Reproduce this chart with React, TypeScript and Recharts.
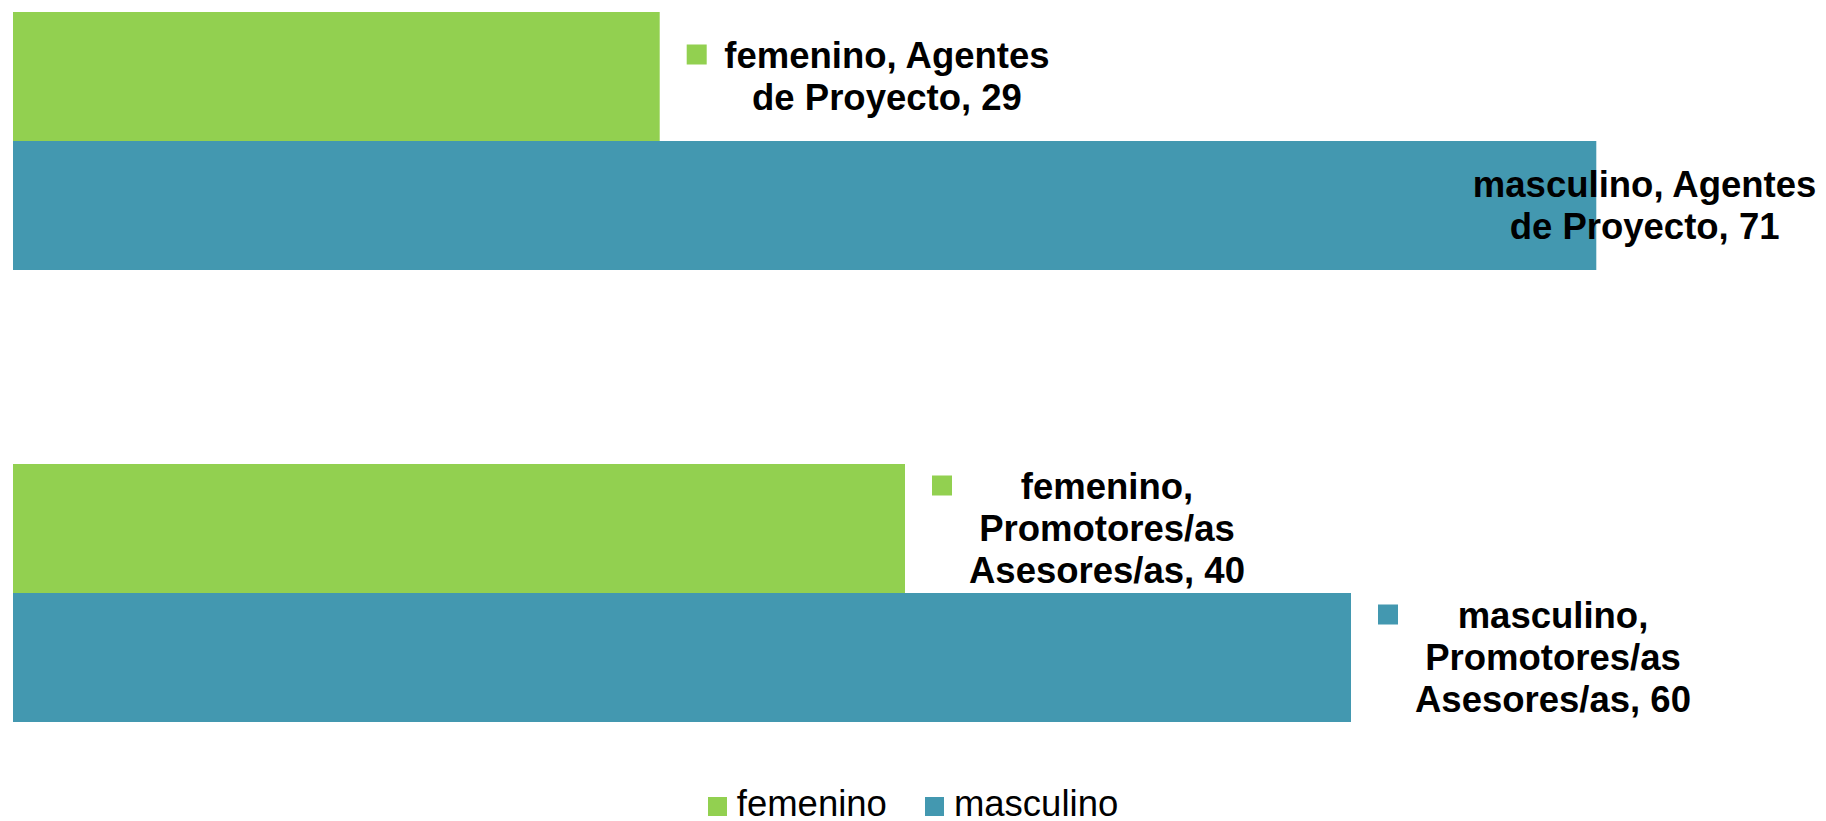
import { BarChart, Bar, XAxis, YAxis, Legend, LabelList } from 'recharts';

// datos del gráfico
const categories = ['Agentes de Proyecto', 'Promotores/as Asesores/as'];
const femenino = [29, 40];
const masculino = [71, 60];
const seriesNames = ['femenino', 'masculino'];
const xDomain = [0, 80];

const COLORS: Record<string, string> = { femenino: '#92D050', masculino: '#4398B0' };
const FONT = '"Liberation Sans", Arial, sans-serif';
const LABEL_SIZE = 36.5;
const LINE_H = 42;
const WRAP_W = 360;
const RIGHT_LIMIT = 1817;

const data = categories.map((cat, i) => ({ cat, femenino: femenino[i], masculino: masculino[i] }));

const ctx = typeof document !== 'undefined' ? document.createElement('canvas').getContext('2d') : null;
function textWidth(t: string) {
  if (!ctx) return t.length * LABEL_SIZE * 0.55;
  ctx.font = `bold ${LABEL_SIZE}px ${FONT}`;
  return ctx.measureText(t).width;
}

function wrap(text: string) {
  const words = text.split(' ');
  const lines: string[] = [];
  let cur = '';
  for (const w of words) {
    const test = cur ? cur + ' ' + w : w;
    if (cur && textWidth(test) > WRAP_W) {
      lines.push(cur);
      cur = w;
    } else {
      cur = test;
    }
  }
  if (cur) lines.push(cur);
  return lines;
}

// etiqueta estilo Excel: clave + serie, categoría, valor
const makeLabel = (series: string) => (props: any) => {
  const vb = props.viewBox ?? props;
  const x = Number(vb.x ?? props.x);
  const y = Number(vb.y ?? props.y);
  const w = Number(vb.width ?? props.width);
  const h = Number(vb.height ?? props.height);
  const value = props.value;
  let idx = props.index;
  if (idx == null) idx = (series === 'femenino' ? femenino : masculino).indexOf(Number(value));
  const cat = categories[idx] ?? '';
  const lines = wrap(`${series}, ${cat}, ${value}`);
  const blockW = Math.max(...lines.map(textWidth));
  const barEnd = x + w;
  const cy = y + h / 2;
  let cx = barEnd + 64 + blockW / 2;
  let showKey = true;
  if (cx + blockW / 2 > RIGHT_LIMIT) {
    cx = RIGHT_LIMIT - blockW / 2;
    showKey = false;
  }
  const n = lines.length;
  const baselines = lines.map((_, i) => cy + (i - (n - 1) / 2) * LINE_H + 12);
  return (
    <g key={`lbl-${series}-${idx}`}>
      {showKey && (
        <rect x={barEnd + 27} y={baselines[0] - 23} width={20} height={20} fill={COLORS[series]} />
      )}
      <text textAnchor="middle" fontFamily={FONT} fontSize={LABEL_SIZE} fontWeight="bold" fill="#000">
        {lines.map((l, i) => (
          <tspan key={i} x={cx} y={baselines[i]}>{l}</tspan>
        ))}
      </text>
    </g>
  );
};

function LegendContent() {
  return (
    <div style={{ display: 'flex', justifyContent: 'center', alignItems: 'center', fontFamily: FONT, fontSize: 36.5, lineHeight: '40px', color: '#000' }}>
      {seriesNames.map((s, i) => (
        <div key={s} style={{ display: 'flex', alignItems: 'center', marginLeft: i ? 38 : 0 }}>
          <span style={{ display: 'inline-block', width: 19, height: 19, background: COLORS[s], marginRight: 10, position: 'relative', top: 2 }} />
          <span>{s}</span>
        </div>
      ))}
    </div>
  );
}

export default function App() {
  return (
    <div style={{ position: 'absolute', left: 0, top: 0, width: 1826, height: 821, background: '#fff' }}>
      <BarChart
        width={1826}
        height={821}
        data={data}
        layout="vertical"
        margin={{ top: -85, right: 29, left: 13, bottom: 2 }}
        barCategoryGap={97}
        barGap={0}
      >
        <XAxis type="number" domain={xDomain} hide />
        <YAxis type="category" dataKey="cat" hide />
        <Legend
          verticalAlign="middle"
          align="center"
          layout="horizontal"
          wrapperStyle={{ top: 784, left: 0, width: 1826 }}
          content={() => <LegendContent />}
        />
        {seriesNames.map((s) => (
          <Bar key={s} dataKey={s} name={s} fill={COLORS[s]} isAnimationActive={false}>
            <LabelList dataKey={s} content={makeLabel(s)} />
          </Bar>
        ))}
      </BarChart>
    </div>
  );
}
